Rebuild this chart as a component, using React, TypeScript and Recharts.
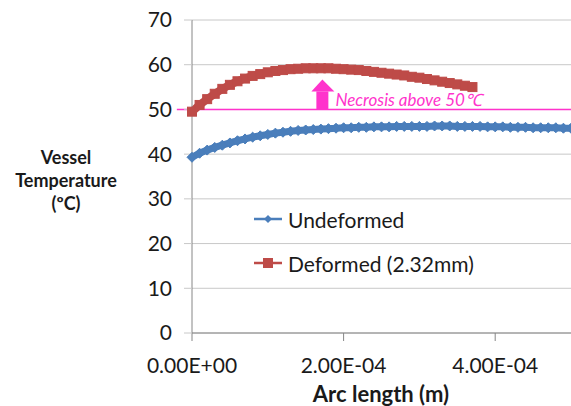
import { ComposedChart, Line, XAxis, YAxis, CartesianGrid, ReferenceLine, ReferenceDot, Legend, Label } from "recharts"

// arc length in micrometres (converted to metres below)
const arcUm = [
  0, 10, 20, 30, 40, 50, 60, 70, 80, 90, 100, 110, 120, 130, 140, 150, 160, 170, 180, 190, 200,
  210, 220, 230, 240, 250, 260, 270, 280, 290, 300, 310, 320, 330, 340, 350, 360, 370, 380, 390,
  400, 410, 420, 430, 440, 450, 460, 470, 480, 490, 500,
]
const undeformed = [
  39.3, 40.2, 40.9, 41.5, 42.0, 42.5, 43.0, 43.4, 43.8, 44.1, 44.4, 44.7, 44.9, 45.1, 45.3, 45.4,
  45.5, 45.6, 45.7, 45.8, 45.9, 45.9, 46.0, 46.0, 46.1, 46.1, 46.1, 46.2, 46.2, 46.2, 46.2, 46.2,
  46.3, 46.3, 46.3, 46.2, 46.2, 46.2, 46.2, 46.1, 46.1, 46.1, 46.0, 46.0, 46.0, 45.9, 45.9, 45.9,
  45.9, 45.8, 45.8,
]
const deformed = [
  49.5, 51.0, 52.3, 53.5, 54.6, 55.5, 56.3, 56.9, 57.5, 57.9, 58.3, 58.6, 58.8, 59.0, 59.1, 59.2,
  59.2, 59.2, 59.2, 59.1, 59.0, 58.9, 58.8, 58.6, 58.4, 58.2, 58.0, 57.8, 57.6, 57.3, 57.1, 56.8,
  56.5, 56.2, 55.9, 55.6, 55.3, 55.0,
]
const yTicks = [0, 10, 20, 30, 40, 50, 60, 70]
const xTicks = [0, 0.0002, 0.0004]
const necrosisLimit = 50
const arrowAt = 0.000172

const BLUE = "#4a7ebb"
const RED = "#be4b48"
const PINK = "#ff33cc"
const FONT = "Lato, 'Open Sans', sans-serif"

const data = arcUm.map((u, i) => ({
  x: u * 1e-6,
  undeformed: undeformed[i],
  deformed: deformed[i],
}))

const fmtSci = (v: number) => {
  const [m, e] = v.toExponential(2).toUpperCase().split("E")
  return `${m}E${e[0]}${e.slice(1).padStart(2, "0")}`
}

const Diamond = (p: any) => {
  const { cx, cy, index } = p
  if (cx == null || cy == null) return <g key={index} />
  const r = 5
  return (
    <polygon key={index} points={`${cx},${cy - r} ${cx + r},${cy} ${cx},${cy + r} ${cx - r},${cy}`} fill={BLUE} stroke={BLUE} />
  )
}

const Square = (p: any) => {
  const { cx, cy, index } = p
  if (cx == null || cy == null) return <g key={index} />
  const r = 4.5
  return <rect key={index} x={cx - r} y={cy - r} width={r * 2} height={r * 2} fill={RED} stroke={RED} />
}

const NecrosisArrow = (p: any) => {
  const { cx, cy } = p
  return (
    <g>
      <rect x={cx - 6} y={cy - 18} width={12} height={18} fill={PINK} />
      <polygon points={`${cx - 11},${cy - 18} ${cx + 12},${cy - 18} ${cx},${cy - 30}`} fill={PINK} />
      <text x={cx + 13} y={cy - 3} fill={PINK} fontStyle="italic" fontSize={17} fontFamily={FONT}>
        Necrosis above 50℃
      </text>
    </g>
  )
}

const YTitle = () => (
  <text textAnchor="middle" fontFamily={FONT} fontWeight="bold" fontSize={18} fill="#1a1a1a">
    <tspan x={66} y={164}>Vessel</tspan>
    <tspan x={66} y={187}>Temperature</tspan>
    <tspan x={66} y={210}>(ºC)</tspan>
  </text>
)

const LegendBox = () => {
  const rows = [
    { name: "Undeformed", color: BLUE, shape: "diamond" },
    { name: "Deformed (2.32mm)", color: RED, shape: "square" },
  ]
  return (
    <div style={{ fontFamily: FONT, fontSize: 21, color: "#1a1a1a" }}>
      {rows.map((r) => (
        <div key={r.name} style={{ display: "flex", alignItems: "center", height: 44 }}>
          <svg width={32} height={14} style={{ marginRight: 4 }}>
            <line x1={2} y1={7} x2={30} y2={7} stroke={r.color} strokeWidth={2.5} />
            {r.shape === "diamond" ? (
              <polygon points="16,3 20,7 16,11 12,7" fill={r.color} />
            ) : (
              <rect x={11} y={2} width={10} height={10} fill={r.color} />
            )}
          </svg>
          <span>{r.name}</span>
        </div>
      ))}
    </div>
  )
}

export default function App() {
  return (
    <div style={{ position: "absolute", left: 0, top: 0, background: "#fff" }}>
      <ComposedChart width={571} height={406} data={data} margin={{ top: 20, right: 0, bottom: 43, left: 0 }}>
        <CartesianGrid vertical={false} stroke="#c8c8c8" />
        <XAxis
          dataKey="x"
          type="number"
          domain={[0, 0.0005]}
          ticks={xTicks}
          tickFormatter={fmtSci}
          height={30}
          stroke="#868686"
          tickSize={8}
          tickMargin={17}
          tick={{ fill: "#1a1a1a", fontSize: 21, fontFamily: FONT }}
        >
          <Label
            content={() => (
              <text x={381} y={402} textAnchor="middle" fontFamily={FONT} fontWeight="bold" fontSize={22} fill="#1a1a1a">
                Arc length (m)
              </text>
            )}
          />
        </XAxis>
        <YAxis
          type="number"
          width={192}
          domain={[0, 70]}
          ticks={yTicks}
          stroke="#868686"
          tickLine={{ stroke: "#c8c8c8" }}
          tickSize={8}
          tickMargin={12}
          tick={{ fill: "#1a1a1a", fontSize: 21, fontFamily: FONT }}
        >
          <Label content={() => <YTitle />} />
        </YAxis>
        <ReferenceLine
          ifOverflow="visible"
          segment={[
            { x: -0.00002, y: necrosisLimit },
            { x: 0.0005, y: necrosisLimit },
          ]}
          stroke={PINK}
          strokeWidth={1.5}
        />
        <Line
          dataKey="undeformed"
          stroke={BLUE}
          strokeWidth={7}
          dot={Diamond}
          activeDot={false}
          isAnimationActive={false}
        />
        <Line
          dataKey="deformed"
          stroke={RED}
          strokeWidth={8}
          dot={Square}
          activeDot={false}
          isAnimationActive={false}
        />
        <ReferenceDot x={arrowAt} y={necrosisLimit} r={0} shape={NecrosisArrow} />
        <Legend
          layout="horizontal"
          verticalAlign="middle"
          align="center"
          wrapperStyle={{ left: 252, top: 197, width: 280 }}
          content={() => <LegendBox />}
        />
      </ComposedChart>
    </div>
  )
}
